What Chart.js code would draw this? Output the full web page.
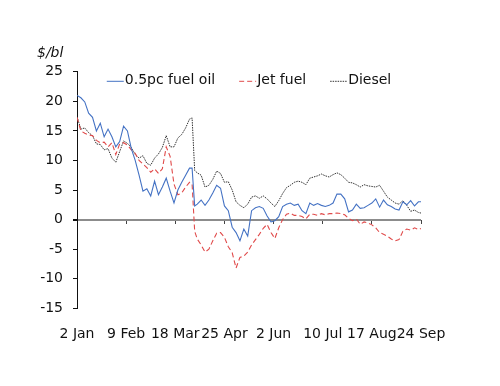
<!DOCTYPE html>
<html>
<head>
<meta charset="utf-8">
<script src="https://cdn.jsdelivr.net/npm/chart.js@4"></script>
<style>
  html, body { margin: 0; padding: 0; background: #ffffff; }
  #wrap { width: 500px; height: 386px; }
</style>
</head>
<body>
<div id="wrap"><canvas id="c" width="500" height="386"></canvas></div>
<script>
// Day offsets from 2 Jan
const days = [0,3,6,9,12,15,18,21,24,27,30,33,36,39,42,45,48,51,54,57,60,63,66,69,72,75,78,81,84,87,
  89,91,
  93,96,99,102,105,108,111,114,117,120,123,126,129,132,135,138,141,144,147,150,153,156,159,162,165,168,171,174,177,180,183,186,189,192,195,198,201,204,207,210,213,216,219,222,225,228,231,234,237,240,243,246,249,252,255,258,261,264,
  266];

const fuelOil = [21.0,20.6,19.9,18.0,17.3,15.0,16.3,14.0,15.3,14.0,12.3,13.2,15.8,15.0,12.0,10.0,7.5,4.8,5.2,4.0,6.5,4.2,5.5,7.0,4.8,2.8,5.0,6.3,7.5,8.7,
  8.7,2.3,
  2.6,3.3,2.4,3.3,4.5,5.8,5.3,2.3,1.5,-1.3,-2.2,-3.6,-1.6,-2.8,1.5,2.0,2.2,1.9,0.6,-0.4,-0.2,0.5,2.2,2.6,2.8,2.4,2.6,1.5,1.0,2.8,2.4,2.7,2.4,2.2,2.4,2.8,4.3,4.3,3.5,1.3,1.6,2.6,1.9,2.0,2.4,2.8,3.5,2.1,3.3,2.5,2.2,1.8,1.6,3.0,2.5,3.2,2.3,3.0,
  3.0];

const jetFuel = [17.3,15.0,14.6,14.3,14.2,13.4,13.0,13.1,12.3,13.0,11.0,12.8,13.0,12.6,11.8,11.2,10.0,9.4,8.8,8.0,8.6,7.8,8.6,12.3,10.7,6.0,4.2,4.5,5.5,6.3,
  6.0,-2.0,
  -3.3,-4.3,-5.5,-5.0,-3.6,-2.3,-2.2,-3.0,-4.6,-5.6,-8.2,-6.4,-6.2,-5.5,-4.3,-3.4,-2.5,-1.5,-0.8,-2.2,-3.2,-1.4,0.0,0.9,1.1,0.7,0.7,0.5,0.1,0.9,0.9,0.7,1.0,0.8,1.0,1.0,1.1,1.0,0.8,0.2,-0.2,0.1,-0.8,-0.4,-0.6,-0.9,-1.4,-2.2,-2.5,-2.8,-3.3,-3.6,-3.4,-2.0,-1.6,-1.8,-1.4,-1.7,
  -1.5];

const diesel = [17.4,15.3,15.5,14.7,14.2,12.8,12.7,11.8,12.0,10.4,9.7,11.5,13.3,12.9,12.2,11.0,10.4,10.8,9.5,9.2,10.4,11.1,12.2,14.2,12.3,12.3,13.8,14.4,15.5,17.0,
  17.2,8.3,
  7.9,7.5,5.5,5.8,6.8,8.2,7.8,6.3,6.4,5.0,3.0,2.4,2.0,2.6,3.8,4.0,3.6,4.0,3.5,2.8,2.2,3.2,4.4,5.4,5.8,6.3,6.5,6.3,5.9,7.0,7.2,7.4,7.7,7.4,7.2,7.6,7.9,7.6,7.0,6.3,6.2,5.9,5.5,5.9,5.7,5.6,5.5,5.8,4.8,3.8,3.3,2.8,2.6,3.2,2.4,1.4,1.6,1.2,
  1.1];

const tickLabels = ['2 Jan','9 Feb','18 Mar','25 Apr','2 Jun','10 Jul','17 Aug','24 Sep'];
const tickStep = 38;
const seriesNames = ['0.5pc fuel oil','Jet fuel','Diesel'];
const unitLabel = '$/bl';

const FONT = '"DejaVu Sans", sans-serif';
const toPts = arr => days.map((d, i) => ({x: d, y: arr[i]}));

const inlineLegend = {
  id: 'inlineLegend',
  afterDraw(chart) {
    const ctx = chart.ctx;
    const area = chart.chartArea;
    const ds = chart.data.datasets;
    ctx.save();
    ctx.font = '14px ' + FONT;
    ctx.textBaseline = 'middle';
    ctx.textAlign = 'left';
    const sample = 17, gap = 1, spacing = 24;
    const widths = ds.map(d => sample + gap + ctx.measureText(d.label).width);
    const total = widths.reduce((a, b) => a + b, 0) + spacing * (ds.length - 1);
    let x = (area.left + area.right) / 2 - total / 2;
    const y = area.top + 9;
    ds.forEach((d, i) => {
      ctx.strokeStyle = d.borderColor;
      ctx.lineWidth = 1;
      ctx.setLineDash(d.borderDash || []);
      ctx.beginPath();
      ctx.moveTo(x, y + 0.5);
      ctx.lineTo(x + sample, y + 0.5);
      ctx.stroke();
      ctx.setLineDash([]);
      ctx.fillStyle = '#111';
      ctx.fillText(d.label, x + sample + gap, y);
      x += widths[i] + spacing;
    });
    ctx.restore();
  }
};

new Chart(document.getElementById('c'), {
  type: 'line',
  data: {
    datasets: [
      { label: seriesNames[0], data: toPts(fuelOil), borderColor: '#4472c4', borderWidth: 1.1, pointRadius: 0, tension: 0, fill: false },
      { label: seriesNames[1], data: toPts(jetFuel), borderColor: '#e04a4a', borderWidth: 1.1, borderDash: [5, 3], pointRadius: 0, tension: 0, fill: false },
      { label: seriesNames[2], data: toPts(diesel), borderColor: '#333333', borderWidth: 1, borderDash: [1.5, 1], pointRadius: 0, tension: 0, fill: false }
    ]
  },
  options: {
    responsive: false,
    animation: false,
    events: [],
    layout: { padding: { left: 37, right: 79, top: 45, bottom: 33 } },
    plugins: {
      legend: { display: false },
      tooltip: { enabled: false },
      title: {
        display: true,
        text: unitLabel,
        align: 'start',
        color: '#111',
        font: { family: FONT, size: 14, style: 'italic', weight: 'normal' },
        padding: { top: 0, bottom: 10 }
      }
    },
    scales: {
      x: {
        type: 'linear',
        min: 0, max: days[days.length - 1],
        grid: { display: false },
        border: { display: false },
        ticks: {
          stepSize: tickStep,
          autoSkip: false,
          maxRotation: 0,
          padding: 10,
          color: '#111',
          font: { family: FONT, size: 14 },
          callback: v => tickLabels[Math.round(v / tickStep)] || ''
        }
      },
      x2: {
        type: 'linear',
        position: { y: 0 },
        min: 0, max: days[days.length - 1],
        grid: { display: true, drawOnChartArea: false, drawTicks: true, tickLength: 4, tickColor: '#444', lineWidth: 1 },
        border: { display: false },
        ticks: { stepSize: tickStep, autoSkip: false, maxRotation: 0, padding: 0, font: { size: 1 }, callback: () => '' }
      },
      y: {
        min: -15, max: 25,
        afterFit: s => { s.width = 40; },
        border: { display: true, color: '#111', width: 1 },
        grid: {
          drawOnChartArea: true,
          drawTicks: true,
          tickLength: 4,
          tickColor: '#111',
          color: c => (c.tick && c.tick.value === 0) ? '#8c8c8c' : 'rgba(0,0,0,0)',
          lineWidth: c => (c.tick && c.tick.value === 0) ? 2 : 1
        },
        ticks: {
          stepSize: 5,
          padding: 10,
          color: '#111',
          font: { family: FONT, size: 14 }
        }
      }
    }
  },
  plugins: [inlineLegend]
});
</script>
</body>
</html>
